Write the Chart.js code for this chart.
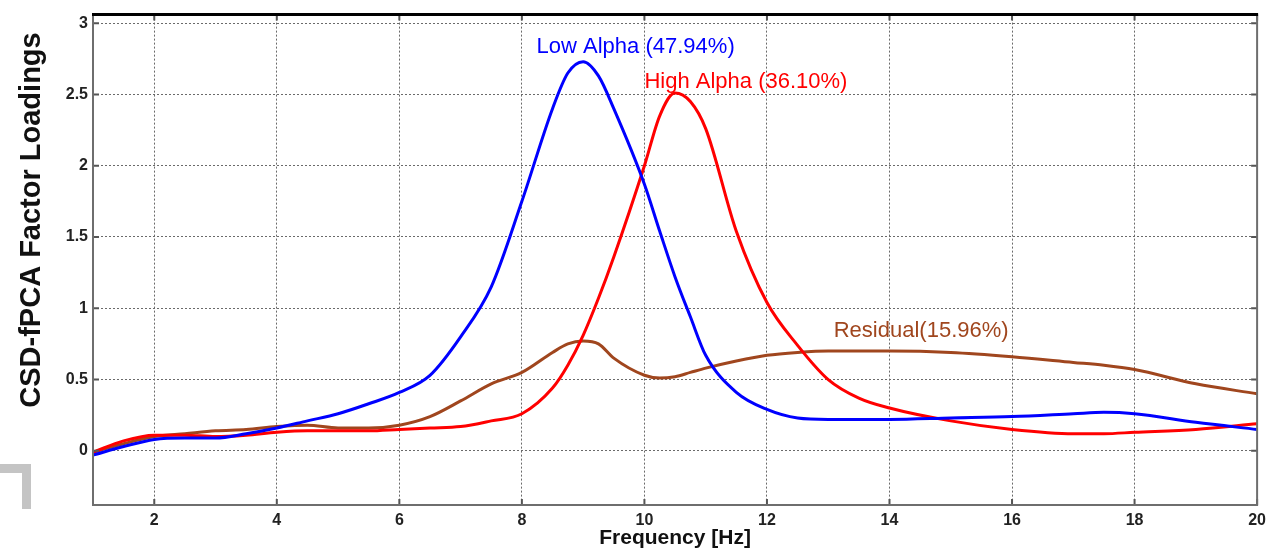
<!DOCTYPE html>
<html>
<head>
<meta charset="utf-8">
<script src="https://cdn.jsdelivr.net/npm/chart.js@4/dist/chart.umd.min.js"></script>
<style>
  html, body { margin: 0; padding: 0; background: #fff; }
  #wrap { width: 1272px; height: 552px; }
</style>
</head>
<body>
<div id="wrap"><canvas id="fpca"></canvas></div>
<script>
// frequency axis (Hz) and the three factor loading curves
const freqs = [1, 1.5, 2, 2.5, 3, 3.5, 4, 4.5, 5, 5.5, 6, 6.5, 7, 7.5, 8, 8.5, 8.75, 9, 9.25, 9.5,
  10, 10.25, 10.5, 10.75, 11, 11.5, 12, 12.5, 13, 13.5, 14, 15, 16, 17, 17.5, 18, 19, 20];

const lowAlpha = [-0.03, 0.03, 0.08, 0.09, 0.09, 0.12, 0.16, 0.21, 0.26, 0.33, 0.41, 0.53, 0.80, 1.15, 1.75, 2.40, 2.65, 2.73, 2.63, 2.40,
  1.87, 1.54, 1.22, 0.94, 0.67, 0.41, 0.29, 0.23, 0.22, 0.22, 0.22, 0.23, 0.24, 0.26, 0.27, 0.26, 0.20, 0.15];

const highAlpha = [-0.01, 0.07, 0.11, 0.11, 0.10, 0.11, 0.13, 0.14, 0.14, 0.14, 0.15, 0.16, 0.17, 0.21, 0.26, 0.44, 0.60, 0.81, 1.07, 1.36,
  2.00, 2.35, 2.51, 2.45, 2.26, 1.54, 1.04, 0.74, 0.50, 0.37, 0.30, 0.21, 0.15, 0.12, 0.12, 0.13, 0.15, 0.19];

const residual = [-0.01, 0.05, 0.10, 0.12, 0.14, 0.15, 0.17, 0.18, 0.16, 0.16, 0.18, 0.24, 0.35, 0.47, 0.55, 0.69, 0.75, 0.77, 0.75, 0.65,
  0.53, 0.51, 0.52, 0.55, 0.58, 0.63, 0.67, 0.69, 0.70, 0.70, 0.70, 0.69, 0.66, 0.62, 0.60, 0.57, 0.47, 0.40];

const seriesNames = ['Low Alpha (47.94%)', 'High Alpha (36.10%)', 'Residual(15.96%)'];
const xTicks = [2, 4, 6, 8, 10, 12, 14, 16, 18, 20];
const yTicks = [0, 0.5, 1, 1.5, 2, 2.5, 3];

const colors = ['#0000ff', '#ff0000', '#a0461e'];
// where the curve labels sit, in data units (left edge, middle)
const labelAt = [[8.24, 2.83], [10.0, 2.59], [13.09, 0.84]];

const pts = vals => freqs.map((f, i) => ({ x: f, y: vals[i] }));

const boxPlugin = {
  id: 'matlabBox',
  afterDraw(chart) {
    const { ctx, chartArea: a, scales: { x, y } } = chart;
    ctx.save();
    // inward tick marks
    ctx.strokeStyle = '#555';
    ctx.lineWidth = 2;
    ctx.beginPath();
    xTicks.forEach(v => {
      const px = x.getPixelForValue(v);
      ctx.moveTo(px, a.bottom); ctx.lineTo(px, a.bottom - 6);
      ctx.moveTo(px, a.top); ctx.lineTo(px, a.top + 6);
    });
    yTicks.forEach(v => {
      const py = y.getPixelForValue(v);
      ctx.moveTo(a.left, py); ctx.lineTo(a.left + 6, py);
      ctx.moveTo(a.right, py); ctx.lineTo(a.right - 6, py);
    });
    ctx.stroke();
    // box
    ctx.strokeStyle = '#6e6e6e';
    ctx.lineWidth = 2;
    ctx.beginPath();
    ctx.moveTo(a.left, a.top); ctx.lineTo(a.left, a.bottom); ctx.lineTo(a.right, a.bottom); ctx.lineTo(a.right, a.top);
    ctx.stroke();
    ctx.strokeStyle = '#000';
    ctx.lineWidth = 3;
    ctx.beginPath();
    ctx.moveTo(a.left - 1, a.top); ctx.lineTo(a.right + 1, a.top);
    ctx.stroke();

    // curve labels
    ctx.font = '22px "Liberation Sans", Arial, sans-serif';
    ctx.textAlign = 'left';
    ctx.textBaseline = 'middle';
    labelAt.forEach((p, i) => {
      ctx.fillStyle = colors[i];
      ctx.fillText(seriesNames[i], x.getPixelForValue(p[0]), y.getPixelForValue(p[1]));
    });

    // axis titles
    ctx.fillStyle = '#111';
    ctx.font = 'bold 21px "Liberation Sans", Arial, sans-serif';
    ctx.textAlign = 'center';
    ctx.textBaseline = 'alphabetic';
    ctx.fillText('Frequency [Hz]', (a.left + a.right) / 2, 544);
    ctx.save();
    ctx.translate(40, 220);
    ctx.rotate(-Math.PI / 2);
    ctx.font = 'bold 29px "Liberation Sans", Arial, sans-serif';
    ctx.fillText('CSD-fPCA Factor Loadings', 0, 0);
    ctx.restore();

    // grey page-fold mark at lower left
    ctx.fillStyle = '#c4c4c4';
    ctx.fillRect(0, 464, 31, 9);
    ctx.fillRect(22, 464, 9, 45);
    ctx.restore();
  }
};

new Chart(document.getElementById('fpca'), {
  type: 'line',
  data: {
    datasets: [
      { label: seriesNames[0], data: pts(lowAlpha), borderColor: colors[0] },
      { label: seriesNames[1], data: pts(highAlpha), borderColor: colors[1] },
      { label: seriesNames[2], data: pts(residual), borderColor: colors[2] }
    ]
  },
  options: {
    responsive: true,
    maintainAspectRatio: false,
    animation: false,
    layout: { padding: { top: 7, right: 13, left: 0, bottom: 0 } },
    elements: {
      line: { borderWidth: 3, cubicInterpolationMode: 'monotone', fill: false },
      point: { radius: 0 }
    },
    plugins: {
      legend: { display: false },
      tooltip: { enabled: false }
    },
    scales: {
      x: {
        type: 'linear',
        min: 1, max: 20,
        afterBuildTicks: s => { s.ticks = xTicks.map(v => ({ value: v })); },
        afterFit: s => { s.height = 47; },
        border: { display: false, dash: [2, 2] },
        grid: { color: '#6a6a6a', lineWidth: 1, drawTicks: false },
        ticks: {
          padding: 6, color: '#222', maxRotation: 0,
          font: { family: '"Liberation Sans", Arial, sans-serif', size: 16, weight: 'bold' },
          callback: v => String(v)
        }
      },
      y: {
        min: -0.38, max: 3.06,
        afterBuildTicks: s => { s.ticks = yTicks.map(v => ({ value: v })); },
        afterFit: s => { s.width = 93; },
        border: { display: false, dash: [2, 2] },
        grid: { color: '#6a6a6a', lineWidth: 1, drawTicks: false },
        ticks: {
          padding: 5, color: '#222',
          font: { family: '"Liberation Sans", Arial, sans-serif', size: 16, weight: 'bold' },
          callback: v => String(v)
        }
      }
    }
  },
  plugins: [boxPlugin]
});
</script>
</body>
</html>
